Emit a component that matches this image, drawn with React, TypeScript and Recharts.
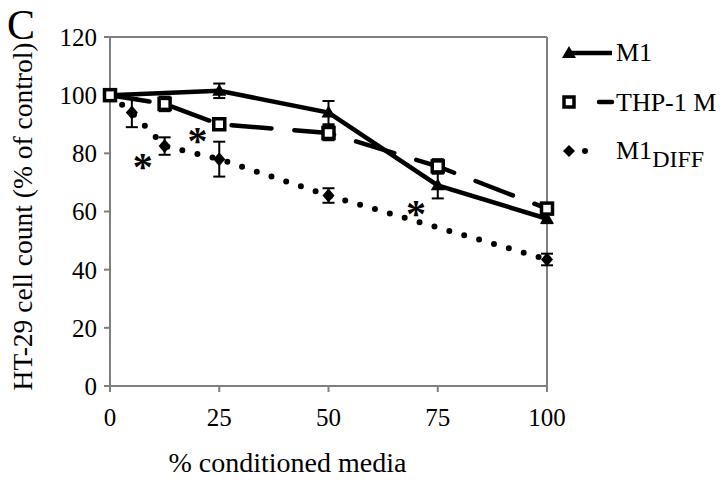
import React from "react";
import {
  ErrorBar,
  Line,
  LineChart,
  ReferenceLine,
  Scatter,
  XAxis,
  YAxis,
} from "recharts";

// % conditioned media (x) for each series
const m1X = [0, 25, 50, 75, 100];
const m1Y = [100, 101.5, 94, 69, 57.5];
const m1Err = [0.5, 2.5, 4, 4.5, 1.5];

const thpX = [0, 12.5, 25, 50, 75, 100];
const thpY = [100, 97, 90, 87, 75.5, 61];
const thpErr = [1, 2.5, 1.5, 2.5, 2.5, 1.5];

const diffX = [0, 5, 12.5, 25, 50, 100];
const diffY = [100, 94, 82.5, 78, 65.5, 43.5];
const diffErr = [0.5, 5, 3, 6, 2.5, 2];

// significance markers
const starX = [7.5, 20, 70];
const starY = [78, 87, 62];

const xTicks = [0, 25, 50, 75, 100];
const yTicks = [0, 20, 40, 60, 80, 100, 120];

const FONT = "'Liberation Serif', 'Times New Roman', serif";
const AXIS = "#7f7f7f";

const zip = (xs: number[], ys: number[], es: number[]) =>
  xs.map((x, i) => ({ x, y: ys[i], err: es[i] }));

const m1Data = zip(m1X, m1Y, m1Err);
const thpData = zip(thpX, thpY, thpErr);
const diffData = zip(diffX, diffY, diffErr);
const starData = starX.map((x, i) => ({ x, y: starY[i] }));

const Triangle = (p: any) => {
  const { cx, cy } = p;
  if (cx == null || cy == null) return null;
  return (
    <path
      key={`t-${p.index}`}
      d={`M${cx},${cy - 7} L${cx + 7},${cy + 5} L${cx - 7},${cy + 5} Z`}
      fill="#000"
    />
  );
};

const Square = (p: any) => {
  const { cx, cy } = p;
  if (cx == null || cy == null) return null;
  return (
    <rect
      key={`s-${p.index}`}
      x={cx - 5.5}
      y={cy - 5.5}
      width={11}
      height={11}
      fill="#fff"
      stroke="#000"
      strokeWidth={3.5}
    />
  );
};

const Diamond = (p: any) => {
  const { cx, cy } = p;
  if (cx == null || cy == null) return null;
  return (
    <path
      key={`d-${p.index}`}
      d={`M${cx},${cy - 7} L${cx + 6},${cy} L${cx},${cy + 7} L${cx - 6},${cy} Z`}
      fill="#000"
    />
  );
};

const Star = (p: any) => {
  const { cx, cy } = p;
  if (cx == null || cy == null) return null;
  return (
    <text
      x={cx}
      y={cy + 21}
      textAnchor="middle"
      fontFamily={FONT}
      fontWeight="bold"
      fontSize={40}
      fill="#000"
    >
      *
    </text>
  );
};

const LegendBox = () => (
  <svg
    width={176}
    height={180}
    style={{ position: "absolute", left: 548, top: 0, overflow: "visible" }}
  >
    {/* M1 */}
    <line x1={20} y1={53} x2={64} y2={53} stroke="#000" strokeWidth={4.5} />
    <path d="M21,46 L28,58 L14,58 Z" fill="#000" />
    <text x={68} y={61} fontFamily={FONT} fontSize={26}>
      M1
    </text>
    {/* THP-1 M */}
    <rect x={16} y={97} width={10} height={10} fill="#fff" stroke="#000" strokeWidth={3.5} />
    <line x1={51} y1={102} x2={64} y2={102} stroke="#000" strokeWidth={4.5} strokeLinecap="round" />
    <text x={68} y={111} fontFamily={FONT} fontSize={26}>
      THP-1 M
    </text>
    {/* M1 DIFF */}
    <line
      x1={21}
      y1={151}
      x2={50}
      y2={151}
      stroke="#000"
      strokeWidth={6}
      strokeDasharray="0 16"
      strokeLinecap="round"
    />
    <path d="M21,145 L27,151 L21,157 L15,151 Z" fill="#000" />
    <text x={68} y={159} fontFamily={FONT} fontSize={26}>
      M1
      <tspan dy={8} fontSize={24}>
        DIFF
      </tspan>
    </text>
  </svg>
);

export default function App() {
  return (
    <div style={{ position: "absolute", left: 0, top: 0, width: 724, height: 480, background: "#fff" }}>
      <LineChart width={724} height={480} margin={{ top: 37, right: 177, bottom: 0, left: 0 }}>
        <XAxis
          type="number"
          dataKey="x"
          domain={[0, 100]}
          ticks={xTicks}
          interval={0}
          allowDuplicatedCategory={false}
          height={94}
          stroke={AXIS}
          strokeWidth={2}
          tickSize={6}
          tickMargin={16}
          tick={{ fill: "#000", fontSize: 25, fontFamily: FONT }}
          label={{
            value: "% conditioned media",
            position: "insideBottom",
            offset: 8,
            dx: -41,
            fill: "#000",
            fontSize: 28,
            fontFamily: FONT,
          }}
        />
        <YAxis
          type="number"
          dataKey="y"
          domain={[0, 120]}
          ticks={yTicks}
          interval={0}
          width={110}
          stroke={AXIS}
          strokeWidth={2}
          tickSize={6}
          tickMargin={7}
          tick={{ fill: "#000", fontSize: 25, fontFamily: FONT }}
          label={{
            value: "HT-29 cell count (% of control)",
            angle: -90,
            position: "center",
            dx: -33,
            dy: 5,
            fill: "#000",
            fontSize: 27.5,
            fontFamily: FONT,
          }}
        />
        <ReferenceLine y={120} stroke={AXIS} strokeWidth={2} />
        <ReferenceLine x={100} stroke={AXIS} strokeWidth={2} />
        <Line
          data={diffData}
          dataKey="y"
          name="M1DIFF"
          stroke="#000"
          strokeWidth={6}
          strokeDasharray="0 15.5"
          strokeLinecap="round"
          dot={Diamond}
          activeDot={false}
          isAnimationActive={false}
        >
          <ErrorBar dataKey="err" direction="y" width={6} stroke="#000" strokeWidth={2} />
        </Line>
        <Line
          data={m1Data}
          dataKey="y"
          name="M1"
          stroke="#000"
          strokeWidth={4.5}
          dot={Triangle}
          activeDot={false}
          isAnimationActive={false}
        >
          <ErrorBar dataKey="err" direction="y" width={6} stroke="#000" strokeWidth={2} />
        </Line>
        <Line
          data={thpData}
          dataKey="y"
          name="THP-1 M"
          stroke="#000"
          strokeWidth={4.5}
          strokeDasharray="40 23"
          strokeLinecap="round"
          dot={Square}
          activeDot={false}
          isAnimationActive={false}
        >
          <ErrorBar dataKey="err" direction="y" width={6} stroke="#000" strokeWidth={2} />
        </Line>
        <Scatter
          data={starData}
          dataKey="y"
          shape={Star}
          legendType="none"
          isAnimationActive={false}
        />
      </LineChart>
      <LegendBox />
      <svg width={60} height={50} style={{ position: "absolute", left: 0, top: 0 }}>
        <text x={7} y={38.5} fontFamily={FONT} fontSize={42} fill="#000">
          C
        </text>
      </svg>
    </div>
  );
}
